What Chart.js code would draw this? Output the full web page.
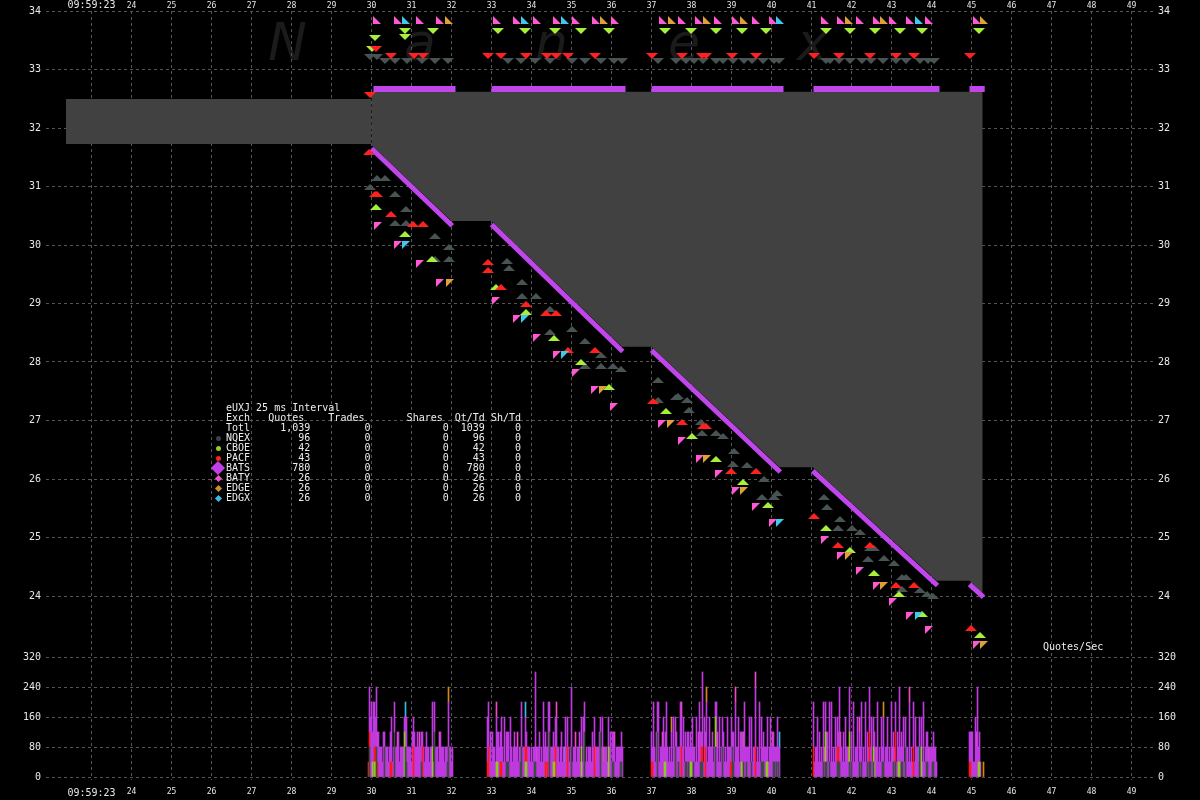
<!DOCTYPE html>
<html>
<head>
<meta charset="utf-8">
<title>eUXJ 25 ms Interval</title>
<script src="https://cdn.jsdelivr.net/npm/chart.js@4.4.1/dist/chart.umd.min.js"></script>
<style>
  html, body { margin:0; padding:0; background:#000; }
  #wrap { position:relative; width:1200px; height:800px; overflow:hidden; background:#000; }
  #wm span { position:absolute; top:16px; font: italic 52px "DejaVu Sans", sans-serif; line-height:52px; color:#1b1b1b; z-index:0; }
  #c { position:absolute; left:0; top:0; z-index:1; }
  #tbl { position:absolute; left:226px; top:403px; z-index:2; margin:0; font: 10px "DejaVu Sans Mono", monospace; line-height:10px; color:#eeeeee; white-space:pre; }
  .mk { position:absolute; z-index:2; }
  #qs { position:absolute; left:1043px; top:641px; z-index:2; font:10px "DejaVu Sans Mono", monospace; line-height:12px; color:#eeeeee; }
</style>
</head>
<body>
<div id="wrap">
  <div id="wm"></div>
  <canvas id="c" width="1200" height="800"></canvas>
  <pre id="tbl"></pre>
  <div id="qs">Quotes/Sec</div>
</div>
<script>
// ---------------- data ----------------
const secTicks   = [23,24,25,26,27,28,29,30,31,32,33,34,35,36,37,38,39,40,41,42,43,44,45,46,47,48,49];
const priceTicks = [24,25,26,27,28,29,30,31,32,33,34];
const rateTicks  = [0,80,160,240,320];

const exchNames  = ['NQEX','CBOE','PACF','BATS','BATY','EDGE','EDGX'];
const exchQuotes = [96,42,43,780,26,26,26];
const exchTrades = [0,0,0,0,0,0,0];
const exchShares = [0,0,0,0,0,0,0];

// grey spread area: [time, price]
const spreadTopA    = [[22.36,32.496],[30.0,32.496]];
const spreadBottomA = [[22.36,31.727],[30.0,31.727]];
const spreadTopB    = [[30.0,32.62],[45.28,32.62]];
const spreadBottomB = [[30.0,31.71],[32.0,30.41],[33.0,30.41],[36.26,28.26],[37.0,28.26],[40.2,26.2],[41.03,26.2],[44.13,24.26],[44.95,24.26],[45.28,24.05]];

// BATS quote bands: [t0, p0, t1, p1]
const batsAskRuns = [[30.05,32.667,32.1,32.667],[33.0,32.667,36.35,32.667],[37.0,32.667,40.3,32.667],[41.05,32.667,44.2,32.667],[44.95,32.667,45.33,32.667]];
const batsBidRuns = [[30.0,31.65,32.02,30.33],[33.0,30.35,36.28,28.18],[37.0,28.2,40.22,26.12],[41.03,26.14,44.15,24.18],[44.95,24.2,45.3,23.98]];

// NQEX quotes
const nqexAsk = [[29.96,33.22],[30.13,33.22],[30.33,33.15],[30.58,33.15],[30.88,33.15],[31.26,33.15],[31.58,33.15],[31.91,33.15],[33.41,33.15],[33.73,33.15],[34.08,33.15],[34.46,33.15],[35.01,33.15],[35.33,33.15],[35.73,33.15],[36.06,33.15],[36.26,33.15],[37.16,33.15],[37.61,33.15],[37.86,33.15],[38.06,33.15],[38.28,33.15],[38.61,33.15],[38.78,33.15],[39.03,33.15],[39.31,33.15],[39.51,33.15],[39.78,33.15],[40.06,33.15],[40.18,33.15],[41.36,33.15],[41.46,33.15],[41.68,33.15],[41.96,33.15],[42.26,33.15],[42.48,33.15],[42.78,33.15],[43.11,33.15],[43.36,33.15],[43.71,33.15],[43.91,33.15],[44.06,33.15]];
const nqexBid = [[30.13,31.15],[30.33,31.15],[29.96,31.0],[30.58,30.87],[30.86,30.62],[30.58,30.38],[30.86,30.38],[31.58,30.15],[31.93,29.97],[31.93,29.76],[31.58,29.76],[33.38,29.73],[33.43,29.6],[33.76,29.37],[33.76,29.13],[34.1,29.13],[34.45,28.91],[35.0,28.56],[34.45,28.51],[35.33,28.36],[35.33,27.93],[35.73,28.12],[35.73,27.93],[36.03,27.93],[36.23,27.88],[37.15,27.69],[37.15,27.35],[37.6,27.4],[37.67,27.42],[37.88,27.35],[37.93,27.18],[38.23,26.97],[38.25,26.79],[38.6,26.79],[38.78,26.74],[39.05,26.48],[39.03,26.26],[39.38,26.24],[39.8,26.0],[40.13,25.76],[39.75,25.69],[40.07,25.69],[41.3,25.69],[41.38,25.52],[41.7,25.32],[41.66,25.16],[42.0,25.16],[42.2,25.1],[42.45,24.82],[42.55,24.82],[42.4,24.63],[42.8,24.65],[43.05,24.56],[43.25,24.32],[43.35,24.32],[43.27,24.12],[43.7,24.1],[43.88,24.03],[44.03,24.0]];
// CBOE quotes
const cboeAsk = [[30.02,33.35],[30.08,33.54],[30.83,33.66],[30.83,33.55],[31.53,33.66],[33.16,33.66],[33.84,33.66],[34.58,33.66],[35.24,33.66],[35.93,33.66],[37.33,33.66],[37.98,33.66],[38.6,33.66],[39.25,33.66],[39.87,33.66],[41.36,33.66],[41.96,33.66],[42.58,33.66],[43.2,33.66],[43.76,33.66],[45.18,33.66]];
const cboeBid = [[30.1,30.65],[30.83,30.19],[31.52,29.76],[33.12,29.28],[33.87,28.85],[34.55,28.41],[35.24,28.0],[35.93,27.57],[37.35,27.16],[38.0,26.74],[38.6,26.34],[39.28,25.95],[39.9,25.56],[41.36,25.16],[41.96,24.79],[42.55,24.39],[43.18,24.03],[43.76,23.69],[45.2,23.33]];
// PACF quotes
const pacfAsk = [[29.96,32.57],[30.1,33.35],[30.48,33.23],[31.06,33.23],[31.28,33.23],[32.9,33.23],[33.24,33.23],[33.86,33.23],[34.39,33.23],[34.61,33.23],[34.9,33.23],[35.58,33.23],[37.0,33.23],[37.75,33.23],[38.25,33.23],[38.35,33.23],[39.0,33.23],[39.6,33.23],[41.05,33.23],[41.68,33.23],[42.45,33.23],[43.1,33.23],[43.56,33.23],[44.95,33.23]];
const pacfBid = [[29.93,31.59],[30.08,30.87],[30.14,30.87],[30.49,30.53],[31.04,30.36],[31.28,30.36],[32.92,29.71],[32.92,29.57],[33.23,29.28],[33.87,28.99],[34.35,28.84],[34.6,28.84],[34.9,28.2],[35.58,28.2],[37.03,27.33],[37.75,26.97],[38.28,26.9],[38.36,26.9],[38.98,26.14],[39.6,26.14],[41.05,25.37],[41.66,24.87],[42.45,24.87],[43.1,24.19],[43.56,24.19],[44.98,23.45]];
// BATY / EDGE / EDGX quotes (offer at 33.84, bid below)
const farAskPrice = 33.84;
const batyAskTimes = [30.14,30.66,31.2,31.7,33.13,33.64,34.13,34.63,35.1,35.6,36.08,37.28,37.76,38.18,38.66,39.1,39.6,40.03,41.33,41.73,42.2,42.63,43.03,43.45,43.93,45.13];
const batyBid = [[30.15,30.32],[30.67,30.0],[31.22,29.67],[31.72,29.35],[33.12,29.04],[33.64,28.74],[34.13,28.41],[34.63,28.12],[35.1,27.81],[35.58,27.52],[36.05,27.23],[37.25,26.94],[37.75,26.65],[38.2,26.34],[38.68,26.09],[39.1,25.79],[39.6,25.52],[40.03,25.25],[41.33,24.96],[41.73,24.68],[42.2,24.43],[42.63,24.17],[43.03,23.9],[43.45,23.66],[43.93,23.42],[45.13,23.16]];
const edgeAskTimes = [31.93,35.8,37.5,38.38,39.3,41.93,42.8,45.3];
const edgeBid = [[31.95,29.35],[35.78,27.52],[37.48,26.94],[38.38,26.34],[39.3,25.79],[41.93,24.68],[42.8,24.17],[45.3,23.16]];
const edgxAskTimes = [30.86,33.84,34.83,40.2,43.68];
const edgxBid = [[30.87,30.0],[33.83,28.74],[34.83,28.12],[40.2,25.25],[43.68,23.66]];

// BATS quotes per 25 ms bin, one digit per bin: [first bin start, counts]
const batsBins = [
  [29.95, "3452532413 2221312221 2231222223 1222212322 2213232232 2221212322 1223122221 2322212213 2212"],
  [32.90, "3323132213 2322321412 2214212322 2121322221 2221212161 2231215222 1522222124 2212312142 2212412221 2231214212 1222132212 2231241222 1223122212 222122"],
  [37.00, "2152132512 2241252121 3142232125 2241213222 1412141252 1514151242 2312152141 2231214221 3121522413 2215212241 3122412151 3122213124 222121412"],
  [41.05, "3122413121 4122314151 2142215221 3142213121 5122412241 2151223141 2221512141 3122412151 2221315221 4122215121 3142212221 5122212221 2221"],
  [44.95, "2233114261 21"]
];

// ---------------- look ----------------
const COL = {
  NQEX:'#485454', CBOE:'#a6f03c', PACF:'#ff2020', BATS:'#c046ec', BATY:'#ff58d2', EDGE:'#e0a038', EDGX:'#40c8f0'
};
const BAR = {
  NQEX:'#404848', CBOE:'#90c820', PACF:'#ff1818', BATS:'#bf3ae0', BATY:'#f048c0', EDGE:'#d08818', EDGX:'#38b8e0'
};
const LEG = {
  NQEX:'#404040', CBOE:'#8fd022', PACF:'#ff2020', BATS:'#c040e8', BATY:'#f050c8', EDGE:'#d09028', EDGX:'#40b8e8'
};
const TEXT = '#e8e8e8', GRID = '#555555', SPREAD = '#414141';
const MONO = '"DejaVu Sans Mono", monospace';

// axis ranges: chart area 46..1153 x 11..780, price panel 11..651, rate panel 651..780
const XMIN = 21.8625, XMAX = 49.5375;
const PRICE_H = 640, RATE_H = 129;
const PMAX = 34, PMIN = 34 - PRICE_H/58.5;
const QMIN = -8, QMAX = (777-651)/0.375;

// ---------------- watermark & table ----------------
const wmLetters = [['N',268],['a',404],['n',535],['e',668],['x',797]];
const wm = document.getElementById('wm');
wmLetters.forEach(([ch,left]) => { const s=document.createElement('span'); s.textContent=ch; s.style.left=left+'px'; wm.appendChild(s); });

const total = exchQuotes.reduce((a,b)=>a+b,0);
const rows = [];
rows.push('eUXJ 25 ms Interval');
rows.push('Exch' + 'Quotes'.padStart(9) + 'Trades'.padStart(10) + 'Shares'.padStart(13) + 'Qt/Td'.padStart(7) + 'Sh/Td'.padStart(6));
const row = (n,q,qs,t,s) => n.padEnd(4) + qs.padStart(10) + String(t).padStart(10) + String(s).padStart(13) + String(t>0?Math.round(q/t):q).padStart(6) + String(t>0?Math.round(s/t):0).padStart(6);
rows.push(row('Totl', total, total.toLocaleString('en-US'), exchTrades.reduce((a,b)=>a+b,0), exchShares.reduce((a,b)=>a+b,0)));
exchNames.forEach((n,i)=>rows.push(row(n, exchQuotes[i], String(exchQuotes[i]), exchTrades[i], exchShares[i])));
document.getElementById('tbl').textContent = rows.join('\n');

const wrap = document.getElementById('wrap');
exchNames.forEach((n,i)=>{
  const d = document.createElement('div'); d.className='mk';
  const cy = 438 + i*10, cx = 218;
  let sz, css;
  if (i < 3) { sz = 5; css = 'border-radius:50%;'; }
  else if (n === 'BATS') { sz = 10; css = 'transform:rotate(45deg);'; }
  else { sz = 5; css = 'transform:rotate(45deg);'; }
  d.style.cssText = css + `left:${cx-sz/2}px;top:${cy-sz/2}px;width:${sz}px;height:${sz}px;background:${LEG[n]};`;
  wrap.appendChild(d);
});

// ---------------- marker images ----------------
function shape(w, h, color, kind) {
  const c = document.createElement('canvas'); c.width = w; c.height = h;
  const g = c.getContext('2d'); g.fillStyle = color; g.beginPath();
  if (kind === 'up')        { g.moveTo(0,h); g.lineTo(w/2,0); g.lineTo(w,h); }
  else if (kind === 'down') { g.moveTo(0,0); g.lineTo(w,0); g.lineTo(w/2,h); }
  else if (kind === 'askR') { g.moveTo(0,0); g.lineTo(0,h); g.lineTo(w,h); }
  else                      { g.moveTo(0,0); g.lineTo(w,0); g.lineTo(0,h); }
  g.closePath(); g.fill(); return c;
}

// ---------------- build datasets ----------------
const P = arr => arr.map(([x,y]) => ({x, y}));
const atPrice = (times, p) => times.map(t => ({x:t, y:p}));
function runs(list) {
  const out = [];
  list.forEach(([t0,p0,t1,p1], i) => {
    if (i) out.push({x:(out[out.length-1].x + t0)/2, y:null});
    out.push({x:t0, y:p0}); out.push({x:t1, y:p1});
  });
  return out;
}
function binCounts(times) {
  const m = new Map();
  times.forEach(t => { const k = Math.round(t*40); m.set(k, (m.get(k)||0) + 1); });
  return [...m.entries()].sort((a,b)=>a[0]-b[0]).map(([k,c]) => ({x:k/40, y:c*40}));
}
function batsBars() {
  const out = [];
  batsBins.forEach(([start, s]) => {
    const k0 = Math.round(start*40);
    s.replace(/ /g,'').split('').forEach((d,i) => { const v = +d; if (v) out.push({x:(k0+i)/40, y:v*40}); });
  });
  return out;
}
const tOf = arr => arr.map(a => a[0]);

const barSets = [
  ['NQEX', binCounts(tOf(nqexAsk).concat(tOf(nqexBid)))],
  ['CBOE', binCounts(tOf(cboeAsk).concat(tOf(cboeBid)))],
  ['PACF', binCounts(tOf(pacfAsk).concat(tOf(pacfBid)))],
  ['BATS', batsBars()],
  ['BATY', binCounts(batyAskTimes)],
  ['EDGE', binCounts(edgeAskTimes)],
  ['EDGX', binCounts(edgxAskTimes)]
].map(([n, data]) => ({
  type:'bar', label:n+' rate', data, backgroundColor:BAR[n], borderWidth:0,
  barThickness:1, grouped:false, stack:'rate', yAxisID:'q', xAxisID:'x', order:20
}));

const line = (data, extra) => Object.assign({type:'line', data, yAxisID:'y', xAxisID:'x', pointRadius:0, borderWidth:0, showLine:true, fill:false}, extra);
const areaSets = [
  line(P(spreadTopA),    {order:15}),
  line(P(spreadBottomA), {order:15, fill:'-1', backgroundColor:SPREAD}),
  line(P(spreadTopB),    {order:15}),
  line(P(spreadBottomB), {order:15, fill:'-1', backgroundColor:SPREAD})
];
const bandSets = [
  line(runs(batsAskRuns), {order:12, borderColor:COL.BATS, borderWidth:6, spanGaps:false}),
  line(runs(batsBidRuns), {order:12, borderColor:COL.BATS, borderWidth:5, spanGaps:false})
];
const marker = (label, data, img, order) => ({
  type:'line', label, data, showLine:false, pointStyle:img, pointRadius:4, pointHoverRadius:4,
  yAxisID:'y', xAxisID:'x', order
});
const markerSets = [
  marker('NQEX ask', P(nqexAsk), shape(12,6,COL.NQEX,'down'), 8),
  marker('NQEX bid', P(nqexBid), shape(12,6,COL.NQEX,'up'), 8),
  marker('CBOE ask', P(cboeAsk), shape(12,6,COL.CBOE,'down'), 7),
  marker('CBOE bid', P(cboeBid), shape(12,6,COL.CBOE,'up'), 7),
  marker('PACF ask', P(pacfAsk), shape(12,6,COL.PACF,'down'), 6),
  marker('PACF bid', P(pacfBid), shape(12,6,COL.PACF,'up'), 6),
  marker('BATY ask', atPrice(batyAskTimes, farAskPrice), shape(8,8,COL.BATY,'askR'), 5),
  marker('BATY bid', P(batyBid), shape(8,8,COL.BATY,'bidR'), 5),
  marker('EDGE ask', atPrice(edgeAskTimes, farAskPrice), shape(8,8,COL.EDGE,'askR'), 4),
  marker('EDGE bid', P(edgeBid), shape(8,8,COL.EDGE,'bidR'), 4),
  marker('EDGX ask', atPrice(edgxAskTimes, farAskPrice), shape(8,8,COL.EDGX,'askR'), 3),
  marker('EDGX bid', P(edgxBid), shape(8,8,COL.EDGX,'bidR'), 3)
];

// ---------------- axes ----------------
const noPad = s => { s.paddingLeft = 0; s.paddingRight = 0; s.paddingTop = 0; s.paddingBottom = 0; };
const setTicks = list => s => { s.ticks = list.map(v => ({value:v})); };
const xTicks = pad => ({
  autoSkip:false, maxRotation:0, minRotation:0, padding:pad, color:TEXT,
  font: ctx => ({family:MONO, size: (ctx.tick && ctx.tick.value === 23) ? 10 : 8}),
  callback: v => v === 23 ? '09:59:23' : String(v)
});
const yTicks = { autoSkip:false, padding:5, color:TEXT, font:{family:MONO, size:10} };
const gridOn  = { color:GRID, lineWidth:1, drawTicks:false, offset:false };
const gridOff = { display:false, drawTicks:false };
const dashBorder = { display:false, dash:[3,3] };

new Chart(document.getElementById('c'), {
  type:'line',
  data:{ datasets: barSets.concat(areaSets, bandSets, markerSets) },
  options:{
    responsive:false, animation:false, events:[],
    layout:{ padding:0 },
    plugins:{ legend:{display:false}, tooltip:{enabled:false} },
    scales:{
      x:  { type:'linear', position:'bottom', min:XMIN, max:XMAX, offset:false,
            afterBuildTicks:setTicks(secTicks), afterFit:s=>{ s.height = 20; noPad(s); },
            ticks:xTicks(7), grid:gridOn, border:dashBorder },
      xt: { type:'linear', position:'top', min:XMIN, max:XMAX, offset:false,
            afterBuildTicks:setTicks(secTicks), afterFit:s=>{ s.height = 11; noPad(s); },
            ticks:xTicks(0), grid:gridOff, border:{display:false} },
      y:  { type:'linear', position:'left', stack:'L', stackWeight:PRICE_H, weight:1, min:PMIN, max:PMAX,
            afterBuildTicks:setTicks(priceTicks), afterFit:s=>{ s.width = 46; noPad(s); },
            ticks:yTicks, grid:gridOn, border:dashBorder },
      q:  { type:'linear', position:'left', stack:'L', stackWeight:RATE_H, weight:0, min:QMIN, max:QMAX, stacked:true,
            afterBuildTicks:setTicks(rateTicks), afterFit:s=>{ s.width = 46; noPad(s); },
            ticks:yTicks, grid:gridOn, border:dashBorder },
      yr: { type:'linear', position:'right', stack:'R', stackWeight:PRICE_H, weight:0, min:PMIN, max:PMAX,
            afterBuildTicks:setTicks(priceTicks), afterFit:s=>{ s.width = 47; noPad(s); },
            ticks:yTicks, grid:gridOff, border:{display:false} },
      qr: { type:'linear', position:'right', stack:'R', stackWeight:RATE_H, weight:1, min:QMIN, max:QMAX,
            afterBuildTicks:setTicks(rateTicks), afterFit:s=>{ s.width = 47; noPad(s); },
            ticks:yTicks, grid:gridOff, border:{display:false} }
    }
  },
  plugins:[{ id:'crisp', beforeDatasetsDraw(chart){ chart.ctx.imageSmoothingEnabled = false; } }]
});
</script>
</body>
</html>
